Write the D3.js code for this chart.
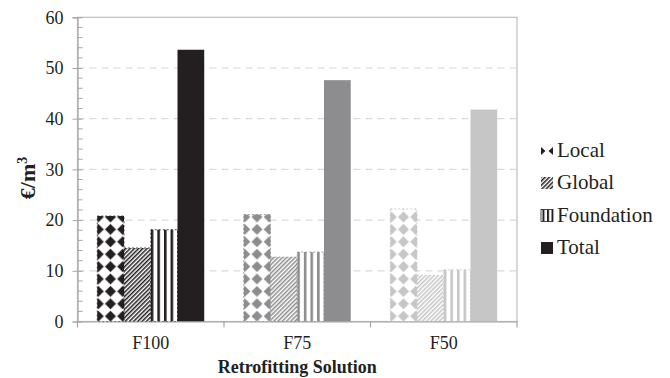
<!DOCTYPE html>
<html>
<head>
<meta charset="utf-8">
<script src="https://cdn.jsdelivr.net/npm/d3@7"></script>
<style>
  html, body { margin: 0; padding: 0; background: #fff; }
  svg { display: block; }
  text { font-family: "Liberation Serif", "Times New Roman", serif; fill: #231f20; }
</style>
</head>
<body>
<svg id="chart" width="670" height="378"></svg>
<script>
const categories = ["F100", "F75", "F50"];
const seriesNames = ["Local", "Global", "Foundation", "Total"];
const localValues = [20.8, 21.1, 22.2];
const globalValues = [14.5, 12.7, 9.1];
const foundationValues = [18.1, 13.7, 10.2];
const totalValues = [53.6, 47.6, 41.8];
const yTicks = [0, 10, 20, 30, 40, 50, 60];
const categoryColors = ["#231f20", "#8d8d8f", "#c6c6c6"];
const xTitle = "Retrofitting Solution";

const seriesValues = [localValues, globalValues, foundationValues, totalValues];
const svg = d3.select("#chart");
const L = 77.5, R = 517, T = 17.3, B = 321.5;

const x = d3.scaleBand().domain(categories).range([L, R]).paddingInner(0).paddingOuter(0);
const xs = d3.scaleBand().domain(seriesNames).range([0, x.bandwidth()]).paddingInner(0).paddingOuter(0.74);
const y = d3.scaleLinear().domain([0, 60]).range([B, T]);

// patterns
const defs = svg.append("defs");
categories.forEach((c, i) => {
  const col = categoryColors[i];
  const pd = defs.append("pattern").attr("id", "local" + i)
    .attr("patternUnits", "userSpaceOnUse").attr("width", 12.2).attr("height", 12.4)
    .attr("x", x(c) + xs("Local") - 5.1).attr("y", 0);
  pd.append("rect").attr("width", 12.2).attr("height", 12.4).attr("fill", "#fff");
  pd.append("path").attr("d", "M6.1,0.6 L11.6,6.2 L6.1,11.8 L0.6,6.2 Z").attr("fill", col);
  const pg = defs.append("pattern").attr("id", "global" + i)
    .attr("patternUnits", "userSpaceOnUse").attr("width", 3).attr("height", 10)
    .attr("patternTransform", "rotate(45)");
  pg.append("rect").attr("width", 3).attr("height", 10).attr("fill", "#fff");
  pg.append("rect").attr("x", 0).attr("width", 1.5).attr("height", 10).attr("fill", col);
  const pf = defs.append("pattern").attr("id", "found" + i)
    .attr("patternUnits", "userSpaceOnUse").attr("width", 6.6).attr("height", 10)
    .attr("x", x(c) + xs("Foundation"));
  pf.append("rect").attr("width", 6.6).attr("height", 10).attr("fill", "#fff");
  pf.append("rect").attr("x", 0).attr("width", 2.6).attr("height", 10).attr("fill", col);
});
(function () {
  const col = categoryColors[0];
  const pd = defs.append("pattern").attr("id", "localLeg")
    .attr("patternUnits", "userSpaceOnUse").attr("width", 12).attr("height", 12).attr("x", 541).attr("y", 145);
  pd.append("rect").attr("width", 12).attr("height", 12).attr("fill", "#fff");
  pd.append("path").attr("d", "M0,2 L4.5,6 L0,10 Z M12,2 L7.5,6 L12,10 Z").attr("fill", col);
  const pf = defs.append("pattern").attr("id", "foundLeg")
    .attr("patternUnits", "userSpaceOnUse").attr("width", 4.5).attr("height", 10).attr("x", 542.5);
  pf.append("rect").attr("width", 4.5).attr("height", 10).attr("fill", "#fff");
  pf.append("rect").attr("x", 0).attr("width", 2).attr("height", 10).attr("fill", col);
})();

function fillFor(si, ci) {
  if (si === 0) return "url(#local" + ci + ")";
  if (si === 1) return "url(#global" + ci + ")";
  if (si === 2) return "url(#found" + ci + ")";
  return categoryColors[ci];
}

svg.append("g").selectAll("line").data(yTicks.filter(t => t > 0 && t < 60)).join("line")
  .attr("x1", L).attr("x2", R).attr("y1", d => y(d)).attr("y2", d => y(d))
  .attr("stroke", "#d9d9d9").attr("stroke-width", 1.2).attr("stroke-dasharray", "7,5");

svg.append("rect").attr("x", L).attr("y", T).attr("width", R - L).attr("height", B - T)
  .attr("fill", "none").attr("stroke", "#bfbfbf").attr("stroke-width", 1.2);

categories.forEach((c, ci) => {
  seriesNames.forEach((s, si) => {
    const v = seriesValues[si][ci];
    svg.append("rect")
      .attr("x", x(c) + xs(s))
      .attr("y", y(v))
      .attr("width", xs.bandwidth())
      .attr("height", y(0) - y(v))
      .attr("fill", fillFor(si, ci))
      .attr("stroke", si < 3 ? categoryColors[ci] : "none")
      .attr("stroke-width", si < 3 ? 0.8 : 0)
      .attr("stroke-dasharray", si < 3 ? "2,2" : null);
  });
});

const yAxis = d3.axisLeft(y).tickValues(yTicks).tickSize(5).tickPadding(9).tickFormat(d3.format("d"));
const gy = svg.append("g").attr("transform", `translate(${L},0)`).call(yAxis);
gy.select(".domain").attr("stroke", "#a6a6a6").attr("stroke-width", 1.2);
gy.selectAll(".tick line").attr("stroke", "#a6a6a6").attr("x2", -5).attr("x1", 5);
gy.selectAll(".tick text").attr("font-size", 18).attr("font-family", "Liberation Serif").attr("fill", "#231f20");
const minor = d3.range(0, 61, 2).filter(v => v % 10 !== 0);
svg.append("g").selectAll("line").data(minor).join("line")
  .attr("x1", L).attr("x2", L + 5).attr("y1", d => y(d)).attr("y2", d => y(d))
  .attr("stroke", "#a6a6a6").attr("stroke-width", 1);

const xAxis = d3.axisBottom(x).tickSize(0).tickPadding(15);
const gx = svg.append("g").attr("transform", `translate(0,${B})`).call(xAxis);
gx.select(".domain").attr("stroke", "#a6a6a6").attr("stroke-width", 1.2);
gx.selectAll(".tick text").attr("font-size", 18).attr("font-family", "Liberation Serif").attr("fill", "#231f20");
const seps = categories.map(c => x(c) + x.bandwidth()).concat([L]);
svg.append("g").selectAll("line").data(seps).join("line")
  .attr("x1", d => d).attr("x2", d => d).attr("y1", B).attr("y2", B + 6)
  .attr("stroke", "#a6a6a6").attr("stroke-width", 1.2);

svg.append("text").attr("x", (L + R) / 2).attr("y", 373).attr("text-anchor", "middle")
  .attr("font-size", 18).attr("font-weight", "bold").text(xTitle);
const yt = svg.append("text").attr("transform", "translate(35,178) rotate(-90)")
  .attr("text-anchor", "middle").attr("font-size", 22).attr("font-weight", "bold");
yt.append("tspan").text("€/m");
yt.append("tspan").attr("font-size", 14).attr("dy", -8).text("3");

const legFills = ["url(#localLeg)", "url(#global0)", "url(#foundLeg)", categoryColors[0]];
seriesNames.forEach((s, i) => {
  const by = 156.5 + i * 32.5;
  svg.append("rect").attr("x", 541).attr("y", by - 12).attr("width", 12).attr("height", 12)
    .attr("fill", legFills[i])
    .attr("stroke", i === 2 ? categoryColors[0] : "none").attr("stroke-width", 0.8);
  svg.append("text").attr("x", 557).attr("y", by).attr("font-size", 21).text(s);
});
</script>
</body>
</html>
